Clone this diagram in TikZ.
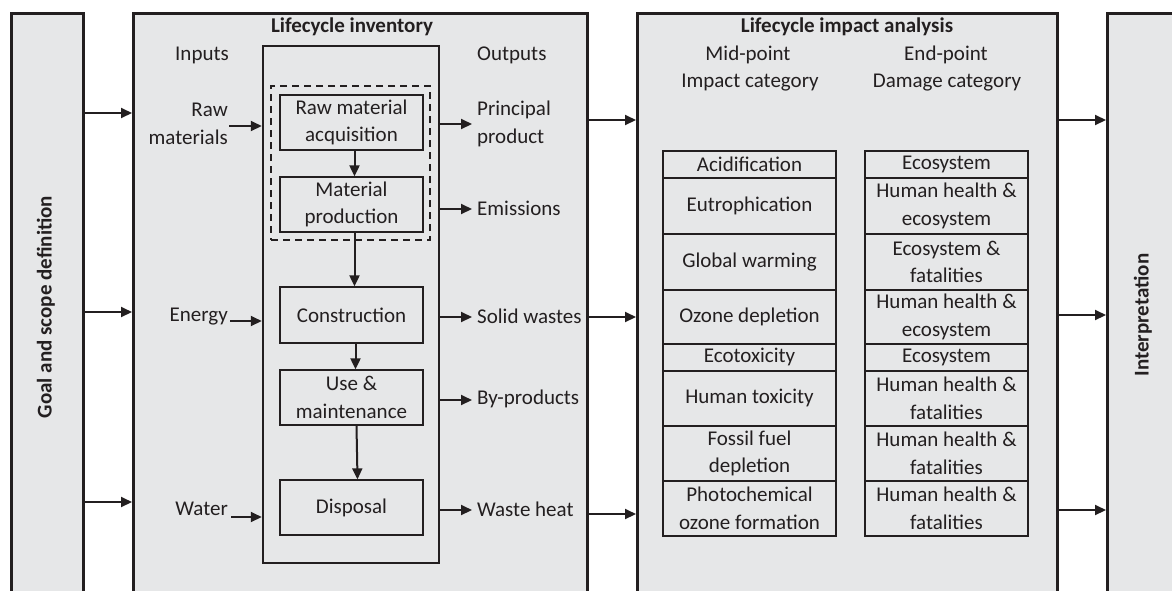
\documentclass[tikz,border=0pt]{standalone}
\usepackage{fontspec}
\setmainfont{Carlito}
\usetikzlibrary{arrows.meta}
\definecolor{panelgray}{RGB}{230,231,232}
\definecolor{ink}{RGB}{35,31,32}
\newcommand\fsz{\fontsize{21pt}{27.5pt}\selectfont}
\begin{document}
\begin{tikzpicture}[x=1pt,y=-1pt,
  every node/.style={text=ink},
  panel/.style={draw=ink,line width=3pt,fill=panelgray,anchor=north west,inner sep=0pt,minimum height=620pt},
  title/.style={font=\fsz\bfseries,inner sep=0pt},
  txt/.style={font=\fsz,inner sep=0pt},
  stagebox/.style={draw=ink,line width=1.3pt,minimum width=143pt,minimum height=55pt,inner sep=0pt,align=center,font=\fsz},
  cellA/.style={draw=ink,line width=1.6pt,minimum width=173pt,inner sep=0pt,align=center,font=\fsz,anchor=north},
  cellB/.style={draw=ink,line width=1.6pt,minimum width=163pt,inner sep=0pt,align=center,font=\fsz,anchor=north},
  arr/.style={draw=ink,line width=2pt,-{Triangle[length=11pt,width=10pt]}},
]
\useasboundingbox (0,0) rectangle (1172,590);
\clip (0,0) rectangle (1172,590);
\fill[white] (0,0) rectangle (1172,590);

% panels
\node[panel,minimum width=72pt] (goal) at (10,12) {};
\node[panel,minimum width=454pt] (inv) at (132,12) {};
\node[panel,minimum width=420pt] (imp) at (636,12) {};
\node[panel,minimum width=94pt] (interp) at (1106,12) {};

\node[title,rotate=90] (goaltxt) at (46,307) {Goal and scope definition};
\node[title,rotate=90] (interptxt) at (1143,315) {Interpretation};

% panel-to-panel arrows
\foreach \y in {113,312,502} \draw[arr] (goal.east |- 0,\y) -- (inv.west |- 0,\y);
\foreach \y in {120,317,514} \draw[arr] (inv.east |- 0,\y) -- (imp.west |- 0,\y);
\foreach \y in {120,315,510} \draw[arr] (imp.east |- 0,\y) -- (interp.west |- 0,\y);

% inventory
\node[title] (invtitle) at (352,27) {Lifecycle inventory};
\node[draw=ink,line width=2.5pt,minimum width=176pt,minimum height=517pt,inner sep=0pt] (inner) at (351,304.5) {};
\node[draw=ink,line width=2pt,dash pattern=on 7pt off 5pt,minimum width=159pt,minimum height=154pt,inner sep=0pt] (dash) at (350.5,163) {};

\node[stagebox] (s1) at (351.5,122.5) {Raw material\\acquisition};
\node[stagebox] (s2) at (351.5,204.5) {Material\\production};
\node[stagebox,minimum height=56pt] (s3) at (351.5,315) {Construction};
\node[stagebox] (s4) at (351.5,397.5) {Use \&\\maintenance};
\node[stagebox] (s5) at (351.5,507.5) {Disposal};

\draw[arr] ([xshift=3pt]s1.south) -- ([xshift=3pt]s2.north);
\draw[arr] ([xshift=3pt]s2.south) -- ([xshift=3pt]s3.north);
\draw[arr] ([xshift=4pt]s3.south) -- ([xshift=4pt]s4.north);
\draw[arr] ([xshift=5pt]s4.south) -- ([xshift=6pt]s5.north);

% inputs
\node[txt] (inputs) at (202,55) {Inputs};
\node[txt,align=right,anchor=east] (rawin) at (228,124) {Raw\\materials};
\node[txt,anchor=east] (energy) at (228,317) {Energy};
\node[txt,anchor=east] (water) at (228,509) {Water};
\draw[arr] ([xshift=1pt]rawin.east |- 0,126) -- (inner.west |- 0,126);
\draw[arr] ([xshift=2pt]energy.east |- 0,321) -- (inner.west |- 0,321);
\draw[arr] ([xshift=3pt]water.east |- 0,517) -- (inner.west |- 0,517);

% outputs
\node[txt,anchor=west] (outputs) at (477,55) {Outputs};
\node[txt,align=left,anchor=west] (prin) at (477,124) {Principal\\product};
\node[txt,anchor=west] (emis) at (477,208) {Emissions};
\node[txt,anchor=west] (solid) at (477,316) {Solid wastes};
\node[txt,anchor=west] (byp) at (477,399) {By-products};
\node[txt,anchor=west] (heat) at (477,509) {Waste heat};
\draw[arr] (inner.east |- 0,124) -- ([xshift=-5pt]prin.west |- 0,124);
\draw[arr] (inner.east |- 0,209) -- ([xshift=-5pt]emis.west |- 0,209);
\draw[arr] (inner.east |- 0,317) -- ([xshift=-5pt]solid.west |- 0,317);
\draw[arr] (inner.east |- 0,400) -- ([xshift=-5pt]byp.west |- 0,400);
\draw[arr] (inner.east |- 0,510) -- ([xshift=-5pt]heat.west |- 0,510);

% impact analysis
\node[title] (imptitle) at (847,27) {Lifecycle impact analysis};
\node[txt] (mid1) at (748,55) {Mid-point};
\node[txt] (mid2) at (750,83) {Impact category};
\node[txt] (end1) at (946,55) {End-point};
\node[txt] (end2) at (947,83) {Damage category};

\node[cellA,minimum height=27pt] (a1) at (749.5,150) {Acidification};
\node[cellA,minimum height=56pt] (a2) at (749.5,177) {Eutrophication};
\node[cellA,minimum height=56pt] (a3) at (749.5,233) {Global warming};
\node[cellA,minimum height=54pt] (a4) at (749.5,289) {Ozone depletion};
\node[cellA,minimum height=27pt] (a5) at (749.5,343) {Ecotoxicity};
\node[cellA,minimum height=55pt] (a6) at (749.5,370) {Human toxicity};
\node[cellA,minimum height=55pt] (a7) at (749.5,425) {Fossil fuel\\depletion};
\node[cellA,minimum height=55pt] (a8) at (749.5,480) {Photochemical\\ozone formation};

\node[cellB,minimum height=27pt] (b1) at (946.5,150) {Ecosystem};
\node[cellB,minimum height=56pt] (b2) at (946.5,177) {Human health \&\\ecosystem};
\node[cellB,minimum height=56pt] (b3) at (946.5,233) {Ecosystem \&\\fatalities};
\node[cellB,minimum height=54pt] (b4) at (946.5,289) {Human health \&\\ecosystem};
\node[cellB,minimum height=27pt] (b5) at (946.5,343) {Ecosystem};
\node[cellB,minimum height=55pt] (b6) at (946.5,370) {Human health \&\\fatalities};
\node[cellB,minimum height=55pt] (b7) at (946.5,425) {Human health \&\\fatalities};
\node[cellB,minimum height=55pt] (b8) at (946.5,480) {Human health \&\\fatalities};
\end{tikzpicture}
\end{document}
